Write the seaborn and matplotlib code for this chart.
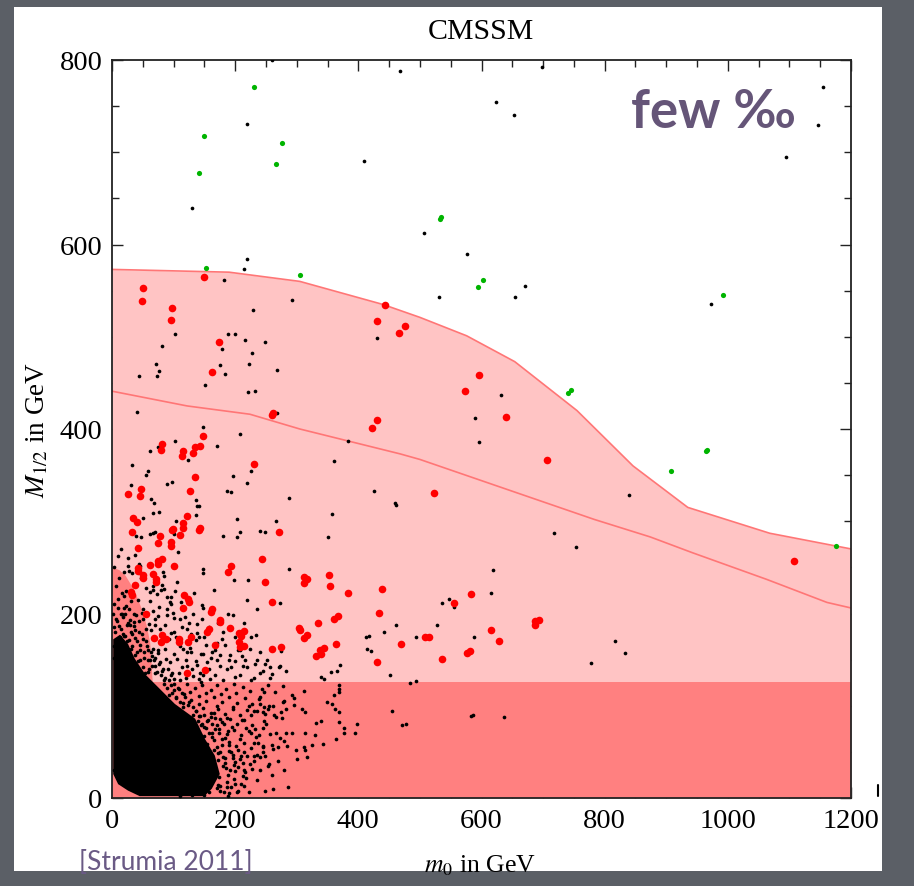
import matplotlib
matplotlib.use("Agg")
import matplotlib.pyplot as plt
from matplotlib.patches import Rectangle
from matplotlib.lines import Line2D
import seaborn as sns
import pandas as pd

sns.set_theme(style="white")
plt.rcParams["font.family"] = ["Liberation Serif", "DejaVu Serif"]
plt.rcParams["mathtext.fontset"] = "stix"

# ---- shaded regions (m0, M1/2 in GeV) ----
band_m0 = [0, 190, 305, 440, 500, 576, 654, 755, 846, 935, 1068, 1200]
band_top = [573, 570, 560, 535, 521, 501, 473, 420, 360, 315, 287, 270]
mid_m0 = [0, 122, 224, 305, 468, 500, 783, 874, 942, 1063, 1161, 1200]
mid_m12 = [441, 425, 416, 400, 373, 367, 302, 283, 266, 237, 212, 206]
low_cut = 126
left_m0 = [0, 12, 22, 32, 42, 51, 57, 62, 64, 66, 66, 0]
left_m12 = [250, 247, 241, 230, 216, 200, 185, 168, 150, 126, 0, 0]

# saturated core of the scan points
core_m0 = [2, 13, 26, 37, 54, 78, 102, 135, 151, 167, 175, 162, 150, 45, 26, 10, 2]
core_m12 = [172, 177, 167, 151, 134, 118, 102, 86, 64, 46, 26, 10, 2, 2, 8, 15, 26]

# ---- scan points ----
green_m0 = [231, 149, 276, 267, 141, 535, 533, 153, 306, 603, 595, 745, 741, 907, 966, 964, 1176, 992]
green_m12 = [771, 718, 710, 687, 677, 630, 628, 574, 567, 561, 554, 442, 439, 354, 377, 376, 273, 545]

red_m0 = [150, 50, 49, 97, 95, 174, 163, 444, 430, 475, 466, 260, 262, 431, 423, 147, 143, 134, 132,
          115, 113, 81, 79, 230, 134, 47, 46, 26, 127, 34, 41, 121, 116, 115, 143, 141, 99, 98, 32,
          78, 111, 271, 596, 573, 639, 707, 523,
          43, 75, 96, 96, 81, 74, 75, 62, 100, 43, 43, 51, 51, 67, 72, 71, 37, 31, 32, 56, 82, 68, 80,
          87, 108, 108, 123, 128, 117, 123, 125, 116, 162, 161, 176, 175, 157, 155, 167, 121, 151,
          194, 189, 192, 207, 209, 214, 207, 208, 214,
          244, 248, 311, 316, 311, 352, 354, 383, 438, 260, 434, 334, 360, 367, 304, 306, 317, 311,
          363, 260, 274, 344, 338, 339, 332, 470, 430, 509, 514, 536, 576, 581, 555, 583, 615, 629,
          687, 694, 687, 1108]
red_m12 = [565, 553, 539, 531, 518, 494, 462, 534, 517, 512, 504, 415, 417, 410, 401, 392, 382, 380, 374,
           376, 371, 384, 377, 362, 348, 335, 327, 330, 333, 304, 299, 306, 298, 293, 293, 290, 292, 290, 288,
           284, 285, 288, 458, 441, 413, 366, 331,
           271, 276, 277, 273, 259, 257, 254, 253, 252, 249, 246, 242, 238, 243, 237, 234, 231, 223, 220, 200,
           177, 173, 169, 172, 172, 169, 169, 175, 220, 216, 212, 206, 205, 202, 193, 191, 183, 180, 166, 135,
           139, 252, 245, 184, 179, 176, 181, 169, 164, 165,
           259, 234, 240, 237, 233, 242, 230, 222, 227, 212, 201, 190, 194, 197, 184, 182, 177, 173,
           167, 161, 164, 163, 160, 156, 154, 167, 147, 174, 175, 151, 157, 159, 211, 221, 182, 170,
           187, 193, 192, 257]

black_m0 = [259, 468, 219, 410, 130, 699, 623, 653, 1155, 1147, 1094, 507, 576, 973,
            219, 215, 182, 292, 229, 103, 188, 200, 216, 248, 81, 178, 227, 71, 222, 176, 77, 268, 44, 73,
            183, 151, 221, 232, 431, 41, 268, 147, 208, 383, 103, 61, 75, 171, 123, 33, 59, 55, 225, 360,
            97, 90, 196, 219, 31, 137, 141, 138, 64, 69, 187, 193, 288, 426, 459, 461, 67, 76, 137, 357,
            203, 266, 50, 104, 39, 47, 62, 99, 100, 181, 203, 208, 241, 248, 350,
            531, 670, 655, 632, 589, 596, 840, 717, 754, 618, 615, 816, 833, 778, 636,
            288, 273, 234, 274, 257, 271, 273, 282, 240, 259, 230, 370, 366, 356, 339, 344, 412, 418, 442,
            461, 414, 421, 451, 484, 494, 494, 528, 536, 548, 555, 588,
            66, 70, 107, 26, 26, 37, 44, 46, 28, 33, 23, 20, 35, 19, 23, 31, 39, 61, 62, 50, 49, 35, 29, 38,
            17, 13, 21, 67, 67, 83, 84, 81, 84, 79, 73, 89, 94, 77, 67, 106, 103, 95, 96, 99, 89, 75, 70,
            51, 60, 55, 78, 86, 95, 110, 121, 129, 138, 146, 119, 138, 142, 136, 146, 148, 166, 147, 148,
            133, 170, 179, 162, 148, 116, 121, 127, 100, 105, 94, 88, 67, 75, 65, 78, 70, 83, 73, 79, 91,
            95, 101, 108, 113, 121, 130, 138, 143, 154, 148, 141, 159, 167, 175, 186, 194, 200, 208, 213,
            219, 211, 198, 221, 219, 197,
            253, 278, 244, 247, 311, 293, 296, 296, 261, 247, 240, 239, 236, 230, 246, 249, 253, 277, 280,
            283, 274, 263, 267, 276, 309, 314, 349, 357, 361, 368, 368, 369, 362, 369, 331, 339, 368, 377,
            376, 364, 395, 398, 330, 314, 293, 282, 280, 273, 266, 256, 247, 246, 233, 226, 237, 246, 260,
            262, 269, 284, 298, 312, 325, 343, 313, 246, 235, 240, 248, 255, 254, 300, 317, 228, 455, 471,
            477, 583, 587]
black_m12 = [800, 788, 731, 690, 640, 792, 754, 740, 771, 729, 695, 613, 590, 536,
             584, 573, 561, 540, 529, 503, 503, 503, 497, 494, 490, 487, 482, 470, 471, 469, 463, 464, 457, 457,
             460, 448, 440, 441, 499, 418, 417, 402, 395, 387, 387, 376, 380, 382, 366, 361, 354, 350, 355, 365,
             343, 340, 349, 341, 339, 323, 317, 317, 324, 320, 333, 332, 325, 333, 320, 318, 309, 310, 307, 308,
             302, 300, 304, 300, 284, 283, 286, 288, 286, 284, 283, 288, 289, 288, 283,
             543, 555, 543, 437, 412, 386, 328, 287, 272, 247, 222, 170, 157, 146, 88,
             248, 211, 177, 159, 142, 142, 143, 138, 135, 134, 130, 144, 138, 137, 131, 129, 175, 176, 180,
             188, 161, 159, 133, 125, 127, 175, 187, 211, 216, 207, 174,
             287, 288, 267, 260, 252, 263, 254, 252, 246, 244, 224, 219, 230, 206, 208, 214, 198, 223, 214, 205,
             201, 191, 187, 182, 199, 175, 176, 230, 225, 245, 241, 231, 227, 225, 221, 218, 212, 207, 203, 234,
             224, 218, 210, 201, 198, 197, 194, 194, 189, 183, 183, 187, 179, 194, 183, 178, 189, 194, 196, 179,
             175, 171, 209, 206, 226, 248, 244, 222, 168, 172, 158, 156, 162, 158, 163, 156, 151, 147, 151, 162,
             157, 154, 147, 143, 140, 137, 133, 140, 133, 129, 136, 142, 143, 140, 144, 136, 147, 133, 129, 129,
             133, 143, 140, 142, 131, 133, 143, 142, 154, 236, 236, 215, 198,
             123, 121, 118, 115, 116, 112, 108, 101, 100, 99, 102, 107, 94, 94, 93, 91, 96, 104, 105,
             96, 93, 90, 88, 87, 97, 93, 104, 102, 112, 118, 123, 115, 96, 93, 81, 83, 82, 76,
             71, 64, 71, 80, 68, 71, 71, 70, 62, 65, 71, 69, 84, 76, 75, 71, 60, 56, 57,
             53, 55, 56, 52, 55, 57, 59, 52, 50, 47, 44, 45, 37, 35, 42, 44, 31, 94, 79,
             80, 89, 90]

# dense scatter surrounding the core
halo_m0 = [95, 108, 121, 134, 146, 160, 171, 185, 198, 212, 224,
           92, 104, 117, 129, 141, 153, 166, 178, 190, 203, 216, 228,
           98, 111, 123, 136, 148, 160, 172, 184, 196, 208, 220,
           118, 130, 142, 155, 167, 179, 191, 203, 215, 227,
           125, 138, 150, 162, 174, 186, 198, 210, 222, 234,
           142, 154, 166, 178, 190, 202, 214, 226,
           150, 160, 172, 184, 196, 208, 220, 231,
           158, 168, 180, 192, 204, 216,
           152, 162, 174, 186, 198, 210,
           146, 158, 170, 182, 194,
           4, 9, 14, 3, 8, 16, 22, 27, 5, 11, 18, 25, 31, 37, 42, 7, 14, 26, 33, 40, 46, 52,
           4, 10, 16, 27, 36, 44, 48, 55, 58, 62, 6, 12, 20, 3, 9, 15, 42, 47, 55, 64, 70,
           60, 68, 74, 53, 86, 92, 100,
           85, 97, 110, 120, 132, 145, 158, 170, 180, 190, 205, 225, 235, 245, 252,
           3, 8, 14, 20, 27, 33, 40, 46, 50, 58, 18, 24, 31, 38, 45, 52, 59, 65, 70,
           2, 10, 21, 29, 36, 44, 51, 57, 63, 70, 76, 82, 86,
           84, 90, 97, 104, 110, 116, 92, 101, 107, 113, 119, 125, 131, 137, 143,
           140, 146, 152, 157, 162, 150, 156, 162, 168, 173, 178, 165, 175, 182, 188,
           170, 175, 180, 183, 185, 190, 193, 196, 198, 200, 205, 210, 212, 215, 218,
           172, 176, 186, 190, 200, 205, 214, 222, 150, 130, 110,
           235, 240, 230, 245, 238, 250, 226, 240, 255, 265, 270, 260, 280, 285, 262, 248, 4, 12,
           101, 127, 152, 177, 202, 115, 142, 170, 196, 222, 131, 160, 186, 211, 145, 170, 195, 218,
           150, 183, 208, 231, 165, 190, 214, 172, 199, 224, 164, 189, 212, 176, 188, 203,
           120, 128, 136, 144, 152, 160, 168, 176, 184, 192, 200, 208, 216, 224, 232, 240, 248, 256,
           110, 104, 114, 125, 131, 150, 158, 172, 180, 188, 200, 215, 225, 235, 100, 90, 112]
halo_m12 = [122, 118, 124, 119, 123, 117, 122, 118, 124, 120, 116,
            112, 108, 113, 106, 111, 105, 110, 104, 109, 103, 108, 102,
            99, 95, 101, 94, 98, 92, 97, 91, 96, 90, 95,
            88, 84, 89, 83, 87, 82, 86, 80, 85, 79,
            76, 72, 77, 71, 75, 69, 74, 68, 73, 66,
            63, 58, 63, 57, 61, 56, 60, 54,
            49, 44, 49, 43, 47, 42, 46, 40,
            36, 31, 35, 30, 34, 28,
            22, 18, 23, 17, 21, 15,
            10, 6, 11, 7, 12,
            152, 158, 150, 165, 170, 163, 156, 150, 180, 186, 178, 170, 162, 155, 148, 194, 200, 190, 178, 170,
            160, 152, 210, 216, 222, 205, 200, 192, 178, 170, 160, 150, 230, 238, 245, 250, 262, 270, 215,
            238, 228, 182, 188, 140, 150, 160, 135, 162, 172, 180,
            128, 135, 128, 130, 132, 126, 140, 150, 128, 150, 160, 128, 150, 138, 150,
            185, 192, 183, 176, 171, 165, 158, 150, 142, 137, 196, 188, 180, 173, 166, 158, 150, 143, 136,
            200, 206, 200, 193, 186, 180, 172, 165, 158, 152, 145, 138, 130,
            124, 119, 114, 109, 104, 99, 128, 124, 119, 114, 109, 104, 99, 94, 89,
            84, 80, 76, 71, 66, 90, 85, 80, 75, 70, 64, 92, 86, 80, 73,
            55, 50, 44, 38, 32, 57, 50, 43, 36, 29, 52, 45, 38, 30, 22,
            14, 8, 12, 5, 15, 8, 13, 6, 3, 3, 2,
            20, 30, 45, 55, 68, 80, 90, 110, 100, 115, 40, 25, 30, 12, 10, 8, 30, 22,
            117, 115, 114, 113, 114, 103, 102, 100, 99, 100, 90, 88, 87, 85, 79, 79, 77, 76,
            67, 65, 64, 60, 52, 51, 50, 41, 39, 37, 26, 25, 24, 13, 2, 6,
            150, 158, 148, 156, 166, 152, 160, 155, 166, 155, 148, 160, 150, 162, 145, 158, 145, 130,
            165, 175, 185, 190, 200, 175, 185, 190, 180, 200, 175, 190, 175, 205, 195, 205, 212]

W, H = 914, 887
fig = plt.figure(figsize=(W / 100, H / 100), dpi=100)
fig.patch.set_facecolor("#5b5f66")
fig.patches.append(Rectangle((14 / W, 1 - 872 / H), 868 / W, 864 / H,
                             transform=fig.transFigure, facecolor="white",
                             edgecolor="none", zorder=-10))

ax = fig.add_axes([112 / W, 1 - 799 / H, 739 / W, 738 / H])
ax.set_zorder(1)
ax.set_facecolor("white")

light = "#ffc4c4"
dark = "#ff8080"
edge = "#ff7676"
ax.fill_between(band_m0, 0, band_top, color=light, lw=0, zorder=1)
ax.plot(band_m0, band_top, color=edge, lw=1.2, zorder=2)
ax.plot(mid_m0, mid_m12, color=edge, lw=1.2, zorder=2)
ax.fill_between([0, 1200], 0, low_cut, color=dark, lw=0, zorder=2)
ax.fill(left_m0, left_m12, color=dark, lw=0, zorder=2)

ax.fill(core_m0, core_m12, color="black", lw=0, zorder=3)
sns.scatterplot(x=black_m0 + halo_m0, y=black_m12 + halo_m12, color="black", s=7,
                linewidth=0, ax=ax, zorder=4)
sns.scatterplot(x=red_m0, y=red_m12, color="#ff0000", s=30, linewidth=0, ax=ax, zorder=5)
sns.scatterplot(x=green_m0, y=green_m12, color="#00b400", s=14, linewidth=0, ax=ax, zorder=5)

ax.set_xlim(0, 1200)
ax.set_ylim(0, 800)
ax.set_xticks(range(0, 1201, 200))
ax.set_yticks(range(0, 801, 200))
ax.set_xticks(range(0, 1201, 50), minor=True)
ax.set_yticks(range(0, 801, 50), minor=True)
ax.tick_params(which="both", direction="in", top=True, right=True, bottom=True, left=True,
               colors="#222222", labelcolor="black", labelsize=20.5)
ax.tick_params(which="major", length=8, width=1.0, pad=7)
ax.tick_params(which="minor", length=5, width=1.0)
ax.set_xlabel("")
ax.set_ylabel("")
for s in ax.spines.values():
    s.set_color("#222222")
    s.set_linewidth(1.3)
    s.set_visible(True)

fig.text(481 / W, 1 - 32 / H, "CMSSM", ha="center", va="center", fontsize=21.5, color="black")
fig.text(480 / W, 1 - 866 / H, r"$m_0$ in GeV", ha="center", va="center", fontsize=18.5, color="black")
fig.text(38 / W, 1 - 430 / H, r"$M_{1/2}$ in GeV", ha="center", va="center", rotation=90,
         fontsize=19.5, color="black")
fig.text(713 / W, 1 - 113 / H, "few ‰", ha="center", va="center", fontsize=38,
         fontweight="bold", color="#655578", family=["Lato", "DejaVu Sans"])
fig.text(166 / W, 1 - 863 / H, "[Strumia 2011]", ha="center", va="center", fontsize=19,
         color="#6a5a85", family=["Lato", "DejaVu Sans"])
fig.add_artist(Line2D([878 / W, 878 / W], [1 - 797 / H, 1 - 786 / H], color="black", lw=1.5,
                      transform=fig.transFigure))

fig.savefig("out.png", dpi=100, facecolor=fig.get_facecolor())
